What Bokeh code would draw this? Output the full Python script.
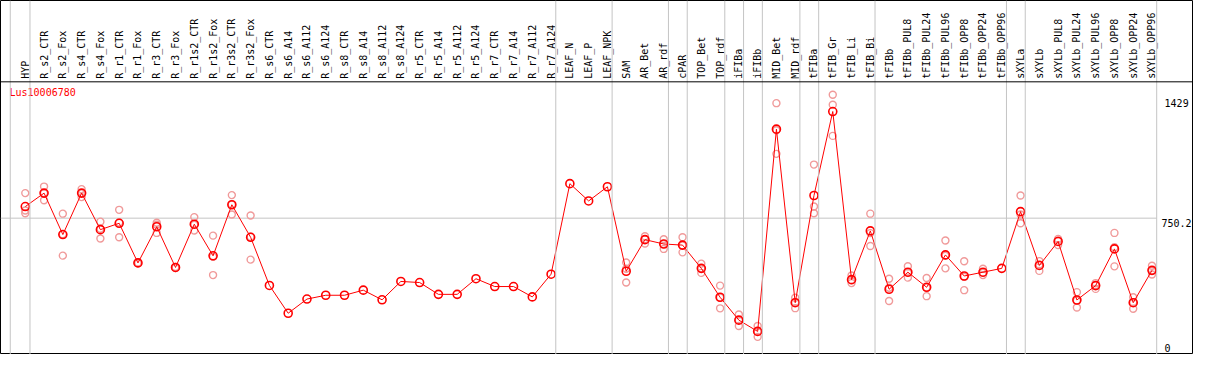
import math
from bokeh.plotting import figure
from bokeh.models import Range1d, ColumnDataSource, Span
from bokeh.core.properties import value
from bokeh.embed import file_html
from bokeh.resources import INLINE

NaN = float("nan")

gene = "Lus10006780"

categories = [
    "HYP", "R_s2_CTR", "R_s2_Fox", "R_s4_CTR", "R_s4_Fox", "R_r1_CTR", "R_r1_Fox",
    "R_r3_CTR", "R_r3_Fox", "R_r1s2_CTR", "R_r1s2_Fox", "R_r3s2_CTR", "R_r3s2_Fox",
    "R_s6_CTR", "R_s6_A14", "R_s6_A112", "R_s6_A124", "R_s8_CTR", "R_s8_A14",
    "R_s8_A112", "R_s8_A124", "R_r5_CTR", "R_r5_A14", "R_r5_A112", "R_r5_A124",
    "R_r7_CTR", "R_r7_A14", "R_r7_A112", "R_r7_A124", "LEAF_N", "LEAF_P", "LEAF_NPK",
    "SAM", "AR_Bet", "AR_rdf", "cPAR", "TOP_Bet", "TOP_rdf", "iFIBa", "iFIBb",
    "MID_Bet", "MID_rdf", "tFIBa", "tFIB_Gr", "tFIB_Li", "tFIB_Bi", "tFIBb",
    "tFIBb_PUL8", "tFIBb_PUL24", "tFIBb_PUL96", "tFIBb_OPP8", "tFIBb_OPP24",
    "tFIBb_OPP96", "sXYLa", "sXYLb", "sXYLb_PUL8", "sXYLb_PUL24", "sXYLb_PUL96",
    "sXYLb_OPP8", "sXYLb_OPP24", "sXYLb_OPP96",
]

means = [
    814, 888, 660, 888, 687, 722, 504, 703, 479, 717, 543, 824, 645,
    380, 227, 305, 326, 326, 354, 301, 402, 396, 331, 331, 417, 374, 374, 317, 442,
    940, 845, 923,
    458, 632, 608, 602, 474, 315, 189, 127, 1240, 285, 875, 1337, 412, 680,
    359, 453, 370, 548, 432, 453, 474,
    786, 490, 622, 300, 379, 581, 285, 463,
]

rep_a = [
    888, 924, 775, 910, 731, 796, 506, 725, 482, 756, 654, 877, 765,
    NaN, NaN, NaN, NaN, NaN, NaN, NaN, NaN, NaN, NaN, NaN, NaN, NaN, NaN, NaN, NaN,
    NaN, NaN, NaN,
    506, 651, 634, 645, 500, 379, 220, 157, 1383, 312, 1045, 1429, 435, 775,
    417, 486, 421, 627, 513, 472, NaN,
    875, 514, 636, 343, 393, 669, 315, 488,
]
rep_b = [
    792, 888, 662, 887, 692, 726, 504, 714, 479, 714, 538, 825, 648,
    NaN, NaN, NaN, NaN, NaN, NaN, NaN, NaN, NaN, NaN, NaN, NaN, NaN, NaN, NaN, NaN,
    NaN, NaN, NaN,
    472, 634, 608, 600, 473, 313, 189, 127, 1234, 288, 814, 1374, 409, 668,
    367, 450, 368, 543, 428, 449, NaN,
    770, 495, 628, 297, 383, 590, 288, 461,
]
rep_c = [
    777, 849, 544, 866, 638, 645, 502, 669, 476, 682, 437, 770, 522,
    NaN, NaN, NaN, NaN, NaN, NaN, NaN, NaN, NaN, NaN, NaN, NaN, NaN, NaN, NaN, NaN,
    NaN, NaN, NaN,
    396, 611, 581, 562, 449, 254, 157, 97, 1104, 255, 777, 1203, 393, 597,
    294, 423, 321, 474, 354, 437, NaN,
    722, 460, 602, 259, 361, 485, 252, 440,
]

# last category index of each group
group_ends = [0, 28, 31, 34, 35, 37, 38, 39, 41, 42, 45, 52, 53, 60]

y_max = 1429
y_mid = 750.2
y_min = 0

# ---------------- layout ----------------
W, H = 1193, 354
RED = "#ff0000"
PINK = "#f09a9a"
GRID = "#c4c4c4"
FONT = value("DejaVu Sans Mono")

X0, X1 = -1.32, 62.21
y_axis_top = y_max * 1.05
y_top = y_axis_top * 370.0 / 285.0
n = len(categories)
xs = list(range(n))

p = figure(width=W, height=H, output_backend="svg", toolbar_location=None,
           x_range=Range1d(X0, X1), y_range=Range1d(0, y_top),
           min_border=0, min_border_left=0, min_border_right=0,
           min_border_top=0, min_border_bottom=0)
p.axis.visible = False
p.xgrid.visible = False
p.ygrid.visible = False
p.outline_line_color = "black"
p.outline_line_width = 1
p.background_fill_color = "white"
p.border_fill_color = "white"

# vertical group separators
p.add_layout(Span(location=-0.8, dimension="height", line_color=GRID, line_width=1))
for g in group_ends:
    p.add_layout(Span(location=g + 0.25, dimension="height", line_color=GRID, line_width=1))

# header separator
p.add_layout(Span(location=y_axis_top, dimension="width", line_color="black", line_width=1))

# mid gridline
p.segment(x0=[X0], y0=[y_mid], x1=[group_ends[-1] + 0.25], y1=[y_mid],
          line_color=GRID, line_width=1)

# category labels (rotated)
p.text(x=xs, y=[y_axis_top] * n, text=categories, angle=math.pi / 2,
       text_font=FONT, text_font_size="10px", text_color="black",
       text_align="left", text_baseline="middle", y_offset=-3)

# replicates
for reps in (rep_a, rep_b, rep_c):
    p.scatter(x=xs, y=reps, marker="circle", size=7, fill_color=None,
              line_color=PINK, line_width=1.4)

# mean line and markers
p.line(x=xs, y=means, line_color=RED, line_width=1)
p.scatter(x=xs, y=means, marker="circle", size=8, fill_color=None,
          line_color=RED, line_width=1.6)

# gene name
p.text(x=[-0.84], y=[y_axis_top], text=[gene], text_font=FONT,
       text_font_size="10px", text_color=RED, text_align="left",
       text_baseline="middle", y_offset=11)

# value labels on the right
lab_src = ColumnDataSource(dict(
    x=[60.67, 60.67],
    y=[y_max, y_min],
    t=[f"{y_max:g}", f"{y_min:g}"],
    off=[8, -7],
))
p.text(x="x", y="y", text="t", y_offset="off", source=lab_src, text_font=FONT,
       text_font_size="10px", text_color="black", text_align="left",
       text_baseline="middle")
p.text(x=[X1], y=[y_mid], text=[f"{y_mid:g}"], x_offset=-2, y_offset=5,
       text_font=FONT, text_font_size="10px", text_color="black",
       text_align="right", text_baseline="middle")

open("out.html", "w").write(file_html(p, INLINE))
